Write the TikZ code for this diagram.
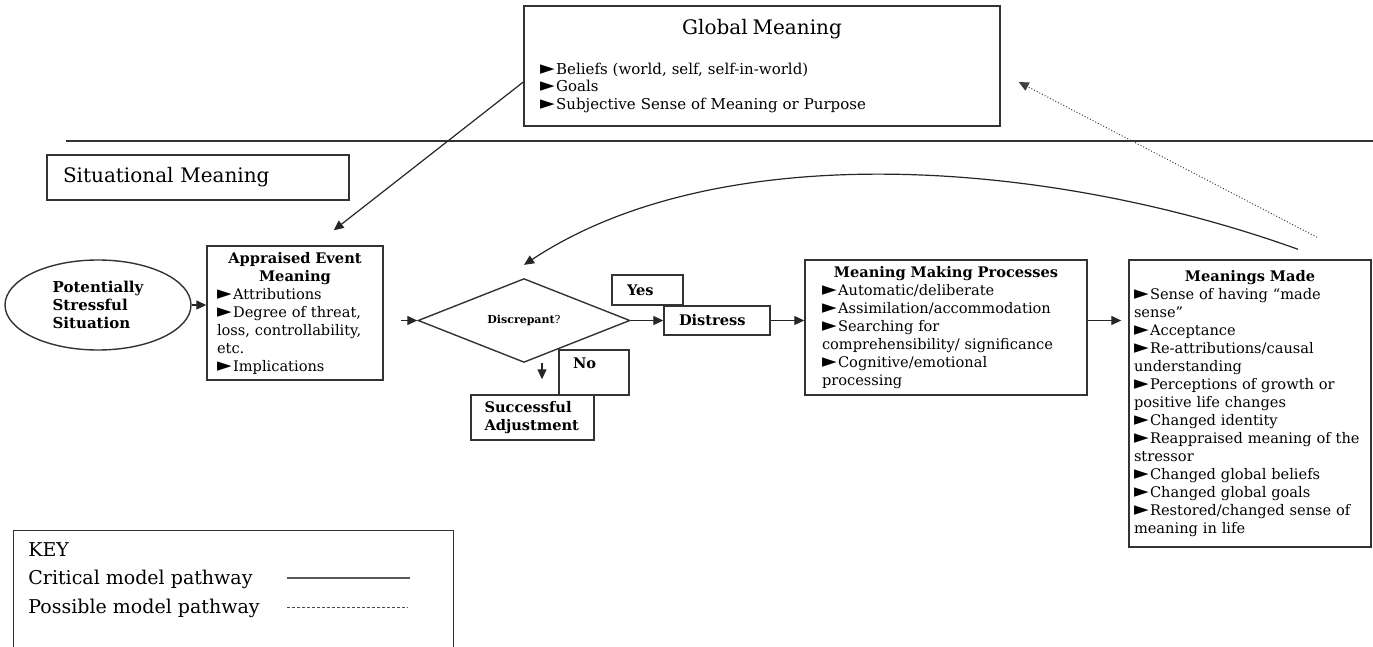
\documentclass[tikz,border=0pt]{standalone}
\usepackage{fontspec}
\setmainfont{DejaVu Serif}
\newfontfamily\symfont{DejaVu Sans}
\usepackage{tikz}
\usetikzlibrary{arrows.meta,positioning,shapes.geometric}
\newcommand{\tri}{{\symfont\fontsize{9.5}{9}\selectfont ►}\hspace{0.1em}}

\begin{document}
\begin{tikzpicture}[x=0.5pt,y=-0.5pt,>={Triangle[length=5pt,width=4.5pt]}]
\tikzstyle{box}=[rectangle,draw=black!80,line width=0.7pt,inner sep=0pt,align=left,font=\fontsize{7.3}{9}\selectfont]
\tikzstyle{label}=[box,font=\fontsize{7.3}{9}\selectfont\bfseries]
\tikzstyle{link}=[->,draw=black!85,line width=0.6pt]
\tikzstyle{maybe}=[->,draw=black!75,line width=0.5pt,densely dotted]
\tikzstyle{keytext}=[anchor=base west,inner sep=0pt,font=\fontsize{9.5}{11}\selectfont]
\useasboundingbox (0,0) rectangle (1373,647);

\node[box,minimum width=238pt,minimum height=60pt,text width=222pt,font=\fontsize{7.5}{8.8}\selectfont] (glob) at (762,66)
  {{\centering\fontsize{10}{12}\selectfont Global Meaning\par}\vspace{11pt}
   \tri Beliefs (world, self, self-in-world)\\\tri Goals\\\tri Subjective Sense of Meaning or Purpose};
\node[box,minimum width=151pt,minimum height=22.5pt,text width=135pt,font=\fontsize{10}{12}\selectfont] (sit) at (198,177.5) {Situational Meaning};
\draw[draw=black!80,line width=0.6pt] (66,141) -- (1373,141);

\node[ellipse,draw=black!80,line width=0.7pt,minimum width=93pt,minimum height=45pt,inner sep=0pt,align=left,font=\fontsize{7.5}{9}\selectfont\bfseries] (pss) at (98,305) {Potentially\\Stressful\\Situation};
\node[box,minimum width=88pt,minimum height=67pt,text width=78pt] (app) at (295,313)
  {{\centering\bfseries Appraised Event\\Meaning\par}\tri Attributions\\\tri Degree of threat,\\loss, controllability,\\etc.\\\tri Implications};
\node[diamond,draw=black!80,line width=0.7pt,minimum width=106pt,minimum height=29.5pt,inner sep=0pt,font=\fontsize{5.5}{6}\selectfont] (dis) at (524,320.5) {\textbf{Discrepant}?};
\node[label,minimum width=35.5pt,minimum height=15pt,text width=20.5pt] (yes) at (647.5,290) {Yes};
\node[label,minimum width=53pt,minimum height=14.5pt,text width=38pt] (dst) at (717,320.5) {Distress};
\node[label,minimum width=35pt,minimum height=22.5pt,text width=21pt] (no) at (594,372.5) {No\\\mbox{}};
\node[label,minimum width=61.5pt,minimum height=22.5pt,text width=48pt] (succ) at (532.5,417.5) {Successful\\Adjustment};
\node[box,minimum width=141pt,minimum height=67.5pt,text width=124pt] (mmp) at (946,327.5)
  {{\centering\bfseries Meaning Making Processes\par}\tri Automatic/deliberate\\\tri Assimilation/accommodation\\\tri Searching for\\comprehensibility/ significance\\\tri Cognitive/emotional\\processing};
\node[box,minimum width=121pt,minimum height=143.5pt,text width=116pt] (mm) at (1250,403.5)
  {{\centering\bfseries Meanings Made\par}\tri Sense of having “made\\sense”\\\tri Acceptance\\\tri Re-attributions/causal\\understanding\\\tri Perceptions of growth or\\positive life changes\\\tri Changed identity\\\tri Reappraised meaning of the\\stressor\\\tri Changed global beliefs\\\tri Changed global goals\\\tri Restored/changed sense of\\meaning in life};

\node[box,minimum width=220pt,minimum height=62pt,anchor=north west] (key) at (13,530) {};
\node[keytext] (keyt) at (28,556) {KEY};
\node[keytext] (crit) at (28,584) {Critical model pathway};
\node[keytext] (poss) at (28,613) {Possible model pathway};
\draw[draw=black!65,line width=1pt] (287,578) -- (410,578);
\draw[draw=black!70,line width=0.4pt,dash pattern=on 1.5pt off 1pt] (287,607) -- (408,607);

\draw[link] (pss.east) -- (pss.east -| app.west);
\draw[link,shorten <=8.5pt] (app.east |- dis.west) -- (dis.west);
\draw[link] (dis.east) -- (dst.west);
\draw[link] (dst.east) -- (dst.east -| mmp.west);
\draw[link,shorten >=3.5pt] (mmp.east |- dst) -- (mm.west |- dst);
\draw[link,shorten >=7.5pt] ([xshift=9pt]dis.south) -- ([xshift=9pt]dis.south |- succ.north);
\draw[link] ([yshift=-8pt]glob.west) -- ([xshift=-25pt,yshift=7.5pt]app.north east);
\draw[link] ([xshift=24pt,yshift=5pt]mm.north) .. controls (1050,160) and (720,135) .. ([yshift=6.5pt]dis.north);
\draw[maybe] ([xshift=33.5pt,yshift=11pt]mm.north) -- ([xshift=9pt,yshift=-8pt]glob.east);
\end{tikzpicture}
\end{document}
